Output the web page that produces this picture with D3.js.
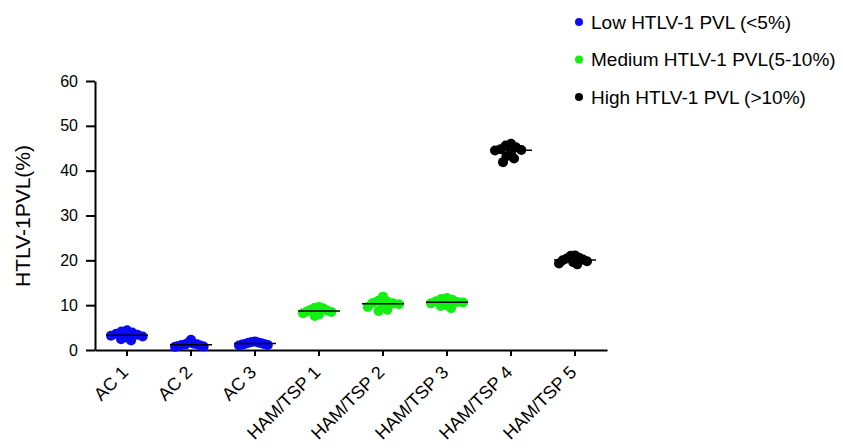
<!DOCTYPE html>
<html>
<head>
<meta charset="utf-8">
<script src="https://cdn.jsdelivr.net/npm/d3@7"></script>
<style>
  html, body { margin: 0; padding: 0; background: #fff; }
  svg { display: block; font-family: "Liberation Sans", Arial, sans-serif; }
</style>
</head>
<body>
<svg id="chart" width="843" height="448"></svg>
<script>
// Sample groups and their PVL measurements (%)
const categories = ["AC 1", "AC 2", "AC 3", "HAM/TSP 1", "HAM/TSP 2", "HAM/TSP 3", "HAM/TSP 4", "HAM/TSP 5"];
const levels = ["low", "low", "low", "medium", "medium", "medium", "high", "high"];

const ac1  = [3.6, 4.1, 3.2, 2.4, 3.9, 3.0, 4.4, 2.8, 3.4, 2.1];
const ac2  = [1.0, 1.2, 0.8, 1.4, 2.3, 1.1, 0.9, 1.6, 1.3, 0.7];
const ac3  = [1.3, 1.8, 1.5, 1.1, 1.7, 1.4, 1.9, 1.2, 1.6, 1.0];
const ham1 = [8.5, 9.3, 8.8, 7.6, 9.6, 8.2, 9.0, 8.6, 7.9, 9.4];
const ham2 = [10.5, 11.9, 9.0, 10.8, 10.2, 8.7, 11.0, 9.6, 10.4, 9.9];
const ham3 = [10.7, 11.6, 9.3, 10.4, 11.2, 10.0, 9.8, 10.6, 11.4, 10.9];
const ham4 = [44.8, 45.6, 43.2, 41.9, 44.5, 46.0, 44.1, 42.7, 45.2, 44.6];
const ham5 = [20.2, 21.0, 19.3, 20.6, 19.8, 21.1, 19.1, 20.4, 20.0, 19.6];
const groupValues = [ac1, ac2, ac3, ham1, ham2, ham3, ham4, ham5];

const yTicks = [0, 10, 20, 30, 40, 50, 60];

const legendKeys = ["low", "medium", "high"];
const legendLabels = ["Low HTLV-1 PVL (<5%)", "Medium HTLV-1 PVL(5-10%)", "High HTLV-1 PVL (>10%)"];
const levelColors = { low: "#0a0af5", medium: "#12f012", high: "#000000" };

const svg = d3.select("#chart");
const plot = { left: 95, right: 607, top: 81, bottom: 350 };

const x = d3.scaleBand().domain(categories).range([plot.left, plot.right]);
const y = d3.scaleLinear().domain([0, 60]).range([plot.bottom, plot.top]);

// Y axis
const yAxis = svg.append("g")
  .attr("transform", `translate(${plot.left},0)`)
  .call(d3.axisLeft(y).tickValues(yTicks).tickSize(9).tickPadding(8).tickSizeOuter(0));
yAxis.select(".domain").attr("stroke", "#000").attr("stroke-width", 2);
yAxis.selectAll(".tick line").attr("stroke", "#000").attr("stroke-width", 2);
yAxis.selectAll(".tick text").attr("font-size", 16).attr("fill", "#000")
  .attr("font-family", "Liberation Sans, Arial, sans-serif");

// X axis
const xAxis = svg.append("g")
  .attr("transform", `translate(0,${plot.bottom})`)
  .call(d3.axisBottom(x).tickSize(6).tickSizeOuter(0));
xAxis.select(".domain").attr("stroke", "#000").attr("stroke-width", 2);
xAxis.selectAll(".tick line").attr("stroke", "#000").attr("stroke-width", 2);
xAxis.selectAll(".tick text")
  .attr("font-size", 18).attr("fill", "#000")
  .attr("font-family", "Liberation Sans, Arial, sans-serif")
  .attr("text-anchor", "end")
  .attr("dy", "0.35em")
  .attr("transform", "translate(-2,19) rotate(-45)")
  .attr("y", 0).attr("x", 0);

// Y axis title
svg.append("text")
  .attr("transform", `translate(30,216) rotate(-90)`)
  .attr("text-anchor", "middle")
  .attr("font-size", 21)
  .attr("fill", "#000")
  .text("HTLV-1PVL(%)");

// Swarm layout: place each point at the closest free horizontal offset,
// then squeeze the group so it stays within a fixed half-width
const r = 5;
const minDist = 7.2;
const maxHalf = 16;
function swarm(values) {
  const placed = [];
  const items = values.map(v => ({ v, cy: y(v) })).sort((a, b) => a.cy - b.cy);
  items.forEach(p => {
    let best = 0;
    for (let k = 0; k <= 200; k++) {
      const off = (k % 2 === 0 ? 1 : -1) * Math.ceil(k / 2) * 0.5;
      const ok = placed.every(q => Math.hypot(q.dx - off, q.cy - p.cy) >= minDist);
      if (ok) { best = off; break; }
    }
    p.dx = best;
    placed.push(p);
  });
  const widest = d3.max(placed, p => Math.abs(p.dx)) || 1;
  const k = Math.min(1, maxHalf / widest);
  placed.forEach(p => { p.dx *= k; });
  return placed;
}

const groups = svg.append("g").selectAll("g")
  .data(categories.map((c, i) => ({ c, level: levels[i], values: groupValues[i] })))
  .join("g")
  .attr("transform", d => `translate(${x(d.c) + x.bandwidth() / 2},0)`);

groups.selectAll("circle")
  .data(d => swarm(d.values).map(p => ({ ...p, level: d.level })))
  .join("circle")
  .attr("cx", p => p.dx)
  .attr("cy", p => p.cy)
  .attr("r", r)
  .attr("fill", p => levelColors[p.level]);

// Median line
groups.append("line")
  .attr("x1", -21).attr("x2", 21)
  .attr("y1", d => y(d3.median(d.values)))
  .attr("y2", d => y(d3.median(d.values)))
  .attr("stroke", "#000")
  .attr("stroke-width", 1.5);

// Legend
const legend = svg.append("g").selectAll("g")
  .data(legendKeys.map((k, i) => ({ k, label: legendLabels[i] })))
  .join("g")
  .attr("transform", (d, i) => `translate(579,${22 + i * 37.5})`);
legend.append("circle").attr("r", 4).attr("fill", d => levelColors[d.k]);
legend.append("text")
  .attr("x", 12).attr("dy", "0.35em")
  .attr("font-size", 19).attr("fill", "#000")
  .text(d => d.label);
</script>
</body>
</html>
